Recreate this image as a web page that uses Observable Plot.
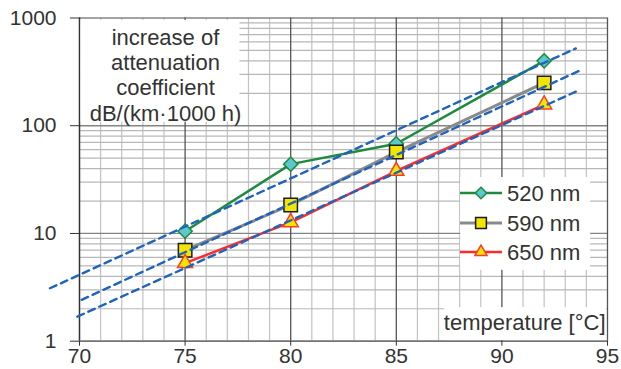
<!DOCTYPE html>
<html><head><meta charset="utf-8">
<script src="https://cdn.jsdelivr.net/npm/d3@7"></script>
<script src="https://cdn.jsdelivr.net/npm/@observablehq/plot@0.6"></script>
<style>body{margin:0;background:#fff} svg{display:block}</style>
</head><body><div id="chart"></div>
<script>
// measured data
const temperatures = [75, 80, 85, 92];
const att520 = [10.5, 44, 68, 400];
const att590 = [7, 18.4, 57, 250];
const att650 = [5.3, 12.7, 38, 157];
const seriesNames = ["520 nm", "590 nm", "650 nm"];

// dashed fit lines (end points)
const fit520T = [68.6, 93.5], fit520A = [3.1, 522];
const fit590T = [70.1, 93.7], fit590A = [2.42, 326];
const fit650T = [69.9, 93.5], fit650A = [1.69, 207];

// ticks and grid
const xTicks = [70, 75, 80, 85, 90, 95];
const yTicks = [1, 10, 100, 1000];
const xMinor = [71,72,73,74,76,77,78,79,81,82,83,84,86,87,88,89,91,92,93,94];
const yMinor = [2,3,4,5,6,7,8,9,20,30,40,50,60,70,80,90,200,300,400,500,600,700,800,900];

const titleText = "increase of\nattenuation\ncoefficient\ndB/(km·1000 h)";
const xLabel = "temperature [°C]";

const styles = [
  {line: "#1f8a3e", fill: "#5cc7cc", stroke: "#1f8a3e", symbol: "diamond2", r: 6.4, width: 2.5},
  {line: "#8a8a8a", fill: "#f2e600", stroke: "#1a1a1a", symbol: "square", r: 7.6, width: 3},
  {line: "#ff2b2b", fill: "#f2e600", stroke: "#ff3a2a", symbol: "triangle", r: 5.6, width: 2.5}
];
const values = [att520, att590, att650];
const rows = seriesNames.flatMap((s, i) => temperatures.map((t, j) => ({series: s, i, t, a: values[i][j]})));
const fits = [[fit520T, fit520A], [fit590T, fit590A], [fit650T, fit650A]]
  .flatMap(([T, A], k) => T.map((t, j) => ({k, t, a: A[j]})));

const FONT = "Liberation Sans, Arial, sans-serif";

function boxes(index, scales) {
  const {x, y} = scales;
  const g = d3.create("svg:g");
  const rect = (x1, x2, y1, y2) => g.append("rect")
    .attr("x", x(x1)).attr("y", y(y2)).attr("width", x(x2) - x(x1)).attr("height", y(y1) - y(y2))
    .attr("fill", "white");
  rect(70.05, 77.6, 108, 950);   // title box
  rect(88.05, 94.2, 4.55, 33);    // legend box
  rect(87.3, 94.95, 1.01, 2.05);  // x label box
  return g.node();
}

function legend(index, scales, values, dims) {
  const g = d3.create("svg:g").attr("text-anchor", "start");
  const x0 = 460, ys = [193, 223, 252];
  seriesNames.forEach((name, i) => {
    const st = styles[i], yy = ys[i];
    g.append("line").attr("x1", x0).attr("x2", x0 + 42).attr("y1", yy).attr("y2", yy)
      .attr("stroke", st.line).attr("stroke-width", st.width);
    const sym = {diamond2: d3.symbolDiamond2, square: d3.symbolSquare, triangle: d3.symbolTriangle}[st.symbol];
    const size = Math.PI * (st.r * 0.8) ** 2;
    g.append("path").attr("d", d3.symbol(sym, size)()).attr("transform", `translate(${x0 + 21},${yy})`)
      .attr("fill", st.fill).attr("stroke", st.stroke).attr("stroke-width", 1.5);
    g.append("text").attr("x", x0 + 47).attr("y", yy).attr("dy", "0.35em").attr("text-anchor", "start")
      .attr("fill", "#333").attr("font-size", 22).attr("font-family", FONT).text(name);
  });
  return g.node();
}

const chart = Plot.plot({
  width: 621, height: 369,
  marginLeft: 79, marginRight: 14, marginTop: 17.5, marginBottom: 28.3,
  style: {fontFamily: FONT, fontSize: "21px", color: "#333", background: "white"},
  x: {domain: [70, 95]},
  y: {type: "log", domain: [1, 1000]},
  marks: [
    Plot.ruleX(xMinor, {stroke: "#c2c2c2", strokeWidth: 1.2}),
    Plot.ruleY(yMinor, {stroke: "#b8b8b8", strokeWidth: 1.2}),
    Plot.ruleY(yTicks, {stroke: "#858585", strokeWidth: 1.3}),
    Plot.ruleX(xTicks, {stroke: "#555", strokeWidth: 1.3}),
    boxes,
    Plot.ruleX([70], {stroke: "#333", strokeWidth: 1.3}),
    Plot.ruleY([1], {stroke: "#666", strokeWidth: 1.3}),
    ...styles.map((st, i) => Plot.line(rows.filter(d => d.i === i), {x: "t", y: "a", stroke: st.line, strokeWidth: st.width})),
    ...styles.map((st, i) => Plot.dot(rows.filter(d => d.i === i), {x: "t", y: "a", symbol: () => st.symbol, r: st.r, fill: st.fill, stroke: st.stroke, strokeWidth: 1.5})),
    Plot.line(fits, {x: "t", y: "a", z: "k", stroke: "#1f63bd", strokeWidth: 2.4, strokeDasharray: "7,5"}),
    Plot.axisX({ticks: xTicks, tickSize: 5, tickPadding: 2, fontSize: 21, tickFormat: d => String(d), label: null}),
    Plot.axisY({ticks: yTicks, tickSize: 9, tickPadding: 14, fontSize: 21, tickFormat: d => String(d), label: null}),
    Plot.text([titleText], {frameAnchor: "top-left", dx: 86, dy: 56.5, lineAnchor: "middle", textAnchor: "middle", fontSize: 22, lineHeight: 1.15, fill: "#333"}),
    Plot.text([xLabel], {frameAnchor: "bottom-right", dx: -2, dy: -18.5, lineAnchor: "middle", textAnchor: "end", fontSize: 22, fill: "#333"}),
    legend
  ]
});
document.getElementById("chart").append(chart);
</script>
</body></html>
